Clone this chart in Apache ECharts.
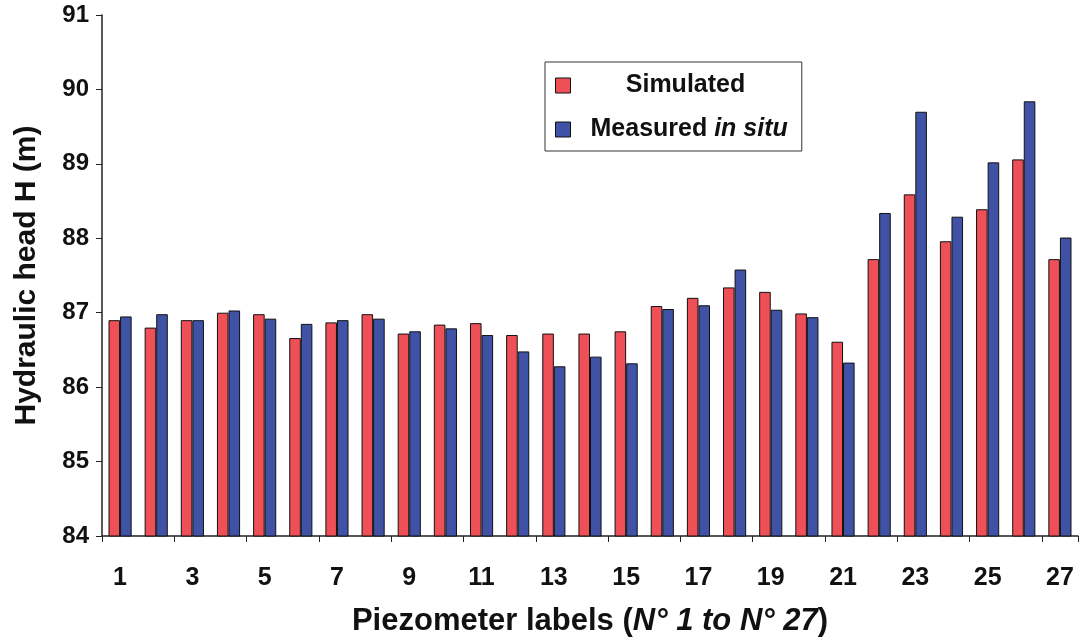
<!DOCTYPE html>
<html><head><meta charset="utf-8">
<script src="https://cdn.jsdelivr.net/npm/echarts@6/dist/echarts.min.js"></script>
<style>html,body{margin:0;padding:0;background:#fff}#c{width:1087px;height:644px}</style>
</head><body><div id="c"></div>
<script>
const categories = ['1','2','3','4','5','6','7','8','9','10','11','12','13','14','15','16','17','18','19','20','21','22','23','24','25','26','27'];
const simulated = [86.90,86.80,86.90,87.00,86.98,86.66,86.87,86.98,86.72,86.84,86.86,86.70,86.72,86.72,86.75,87.09,87.20,87.34,87.28,86.99,86.61,87.72,88.59,87.96,88.39,89.06,87.72];
const measured  = [86.95,86.98,86.90,87.03,86.92,86.85,86.90,86.92,86.75,86.79,86.70,86.48,86.28,86.41,86.32,87.05,87.10,87.58,87.04,86.94,86.33,88.34,89.70,88.29,89.02,89.84,88.01];
const yMin = 84, yMax = 91, yStep = 1;

const narrow = '"Liberation Sans Narrow", "Liberation Sans", Arial, sans-serif';
const sans = '"Liberation Sans", Arial, sans-serif';

const chart = echarts.init(document.getElementById('c'));
chart.setOption({
  animation: false,
  backgroundColor: '#fff',
  grid: { left: 102, right: 9, top: 15, bottom: 108, containLabel: false },
  legend: {
    left: 545, top: 62, orient: 'vertical',
    padding: [11, 14, 9, 10],
    itemGap: 19,
    itemWidth: 15, itemHeight: 15,
    icon: 'rect',
    itemStyle: { borderColor: '#111', borderWidth: 1 },
    borderColor: '#333', borderWidth: 1,
    backgroundColor: '#fff',
    data: ['Simulated', 'Measured in situ'],
    formatter: function (n) {
      if (n === 'Simulated') return '{c|Simulated}';
      return '{b|Measured }{i|in situ}';
    },
    textStyle: {
      rich: {
        c: { fontFamily: sans, fontWeight: 'bold', fontSize: 25, color: '#111', width: 190, align: 'center', padding: [0, 0, 0, 15] },
        b: { fontFamily: sans, fontWeight: 'bold', fontSize: 25, color: '#111', padding: [0, 0, 0, 15] },
        i: { fontFamily: sans, fontWeight: 'bold', fontStyle: 'italic', fontSize: 25, color: '#111' }
      }
    }
  },
  xAxis: {
    type: 'category',
    data: categories,
    axisLine: { lineStyle: { color: '#222', width: 1.5 } },
    axisTick: { show: true, length: 6, alignWithLabel: false, lineStyle: { color: '#222' } },
    axisLabel: { interval: 1, margin: 30, fontFamily: narrow, fontWeight: 'bold', fontSize: 25, color: '#111' },
    name: '{a|Piezometer labels (}{i|N° 1 to N° 27}{a|)}',
    nameLocation: 'middle',
    nameGap: 70,
    nameTextStyle: {
      rich: {
        a: { fontFamily: narrow, fontWeight: 'bold', fontSize: 31, color: '#111' },
        i: { fontFamily: narrow, fontWeight: 'bold', fontStyle: 'italic', fontSize: 31, color: '#111' }
      }
    }
  },
  yAxis: {
    type: 'value',
    min: yMin, max: yMax, interval: yStep,
    axisLine: { show: true, lineStyle: { color: '#222', width: 1.5 } },
    axisTick: { show: true, length: 6, lineStyle: { color: '#222' } },
    splitLine: { show: false },
    axisLabel: { margin: 13, fontFamily: sans, fontWeight: 'bold', fontSize: 24, color: '#111' },
    name: 'Hydraulic head H (m)',
    nameLocation: 'middle',
    nameGap: 60,
    nameTextStyle: { fontFamily: sans, fontWeight: 'bold', fontSize: 30, color: '#111' }
  },
  series: [
    { name: 'Simulated', type: 'bar', data: simulated, barGap: '0%', barCategoryGap: '36%',
      itemStyle: { color: '#EF5058', borderColor: '#111', borderWidth: 1 } },
    { name: 'Measured in situ', type: 'bar', data: measured,
      itemStyle: { color: '#3F52A6', borderColor: '#111', borderWidth: 1 } }
  ]
});
</script></body></html>
